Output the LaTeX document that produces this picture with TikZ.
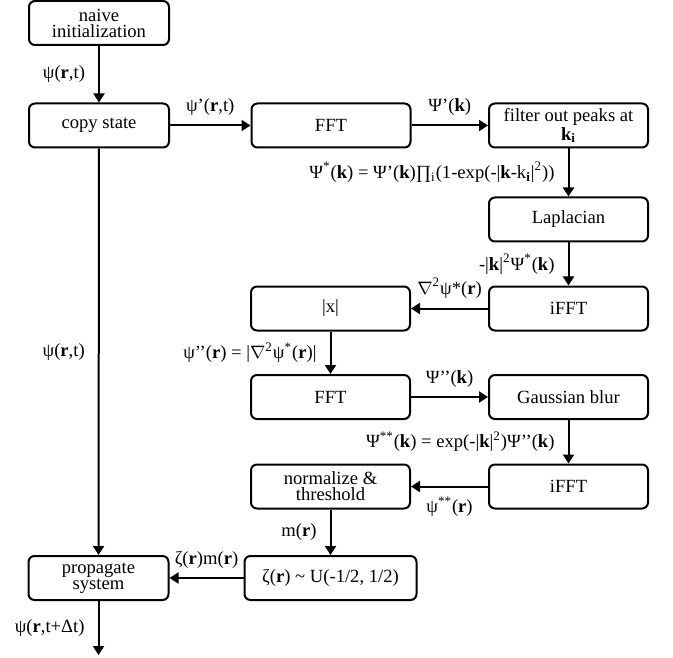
\documentclass[tikz,border=0pt]{standalone}
\usepackage{fontspec}
\setmainfont{Liberation Serif}
\usetikzlibrary{arrows.meta}

\begin{document}
\begin{tikzpicture}
	[->,>={Triangle[length=4.5pt,width=5.5pt]},auto,node distance=45pt,
		line width=1pt,font=\fontsize{9.3}{8}\selectfont,
		proc node/.style={rectangle,rounded corners=3pt,draw,align=center,minimum width=79.5pt,minimum height=22pt,inner sep=1pt},
		io node/.style={proc node,minimum width=70pt},
		lbl/.style={draw=none,inner xsep=6.5pt,inner ysep=4.5pt}]

	\useasboundingbox (0,0) rectangle (336.5pt,-328.5pt);

	\node[io node]   (naive)  at (49.5pt,-11.5pt)  {naive\\initialization};
	\node[io node]   (copy)   [below of = naive, node distance=51.25pt]  {copy state};
	\node[proc node] (fft)    [right of = copy, node distance=116pt]  {FFT};
	\node[proc node] (filter) [right of = fft, node distance=118.75pt]  {filter out peaks at\\\textbf{k\textsubscript{i}}};
	\node[proc node] (lap)    [below of = filter, node distance=47pt]  {Laplacian};
	\node[proc node] (ifft)   [below of = lap, node distance=44.5pt]  {iFFT};
	\node[proc node] (abs)    [left of = ifft, node distance=119pt]  {|x|};
	\node[proc node] (fftb)   [below of = abs, node distance=44.25pt]  {FFT};
	\node[proc node] (blur)   [right of = fftb, node distance=119pt]  {Gaussian blur};
	\node[proc node] (ifftb)  [below of = blur, node distance=44.75pt]  {iFFT};
	\node[proc node] (norm)   [left of = ifftb, node distance=119pt]  {normalize \&\\threshold};
	\node[proc node, minimum width=86pt] (noise) [below of = norm, node distance=45.75pt]  {ζ(\textbf{r}) \textasciitilde{} U(-1/2, 1/2)};
	\node[io node]   (prop)   [left of = noise, node distance=116pt]  {propagate\\system};
	\coordinate      (next)   at ([yshift=-38.5pt]prop.center);

	\path[every node/.style=lbl]
	(naive) edge  node[swap] {ψ(\textbf{r},t)}  (copy)
	(copy) edge  node {ψ’(\textbf{r},t)}  (fft)
	edge  node[swap] {ψ(\textbf{r},t)}  (prop)
	(fft) edge  node {Ψ’(\textbf{k})}  (filter)
	(filter) edge  node[swap] {Ψ\textsuperscript{*}(\textbf{k}) = Ψ’(\textbf{k})∏\textsubscript{i}(1-exp(-|\textbf{k}-k\textsubscript{\textbf{i}}|\textsuperscript{2}))}  (lap)
	(lap) edge  node[swap] {-|\textbf{k}|\textsuperscript{2}Ψ\textsuperscript{*}(\textbf{k})}  (ifft)
	(ifft) edge  node[swap] {$\nabla$\textsuperscript{2}ψ*(\textbf{r})}  (abs)
	(abs) edge  node[swap] {ψ’’(\textbf{r}) = |$\nabla$\textsuperscript{2}ψ\textsuperscript{*}(\textbf{r})|}  (fftb)
	(fftb) edge  node {Ψ’’(\textbf{k})}  (blur)
	(blur) edge  node[swap] {Ψ\textsuperscript{**}(\textbf{k}) = exp(-|\textbf{k}|\textsuperscript{2})Ψ’’(\textbf{k})}  (ifftb)
	(ifftb) edge  node {ψ\textsuperscript{**}(\textbf{r})}  (norm)
	(norm) edge  node[swap] {m(\textbf{r})}  (noise)
	(noise) edge  node[swap] {ζ(\textbf{r})m(\textbf{r})}  (prop)
	(prop) edge  node[swap] {ψ(\textbf{r},t+Δt)}  (next)

	;

\end{tikzpicture}
\end{document}
